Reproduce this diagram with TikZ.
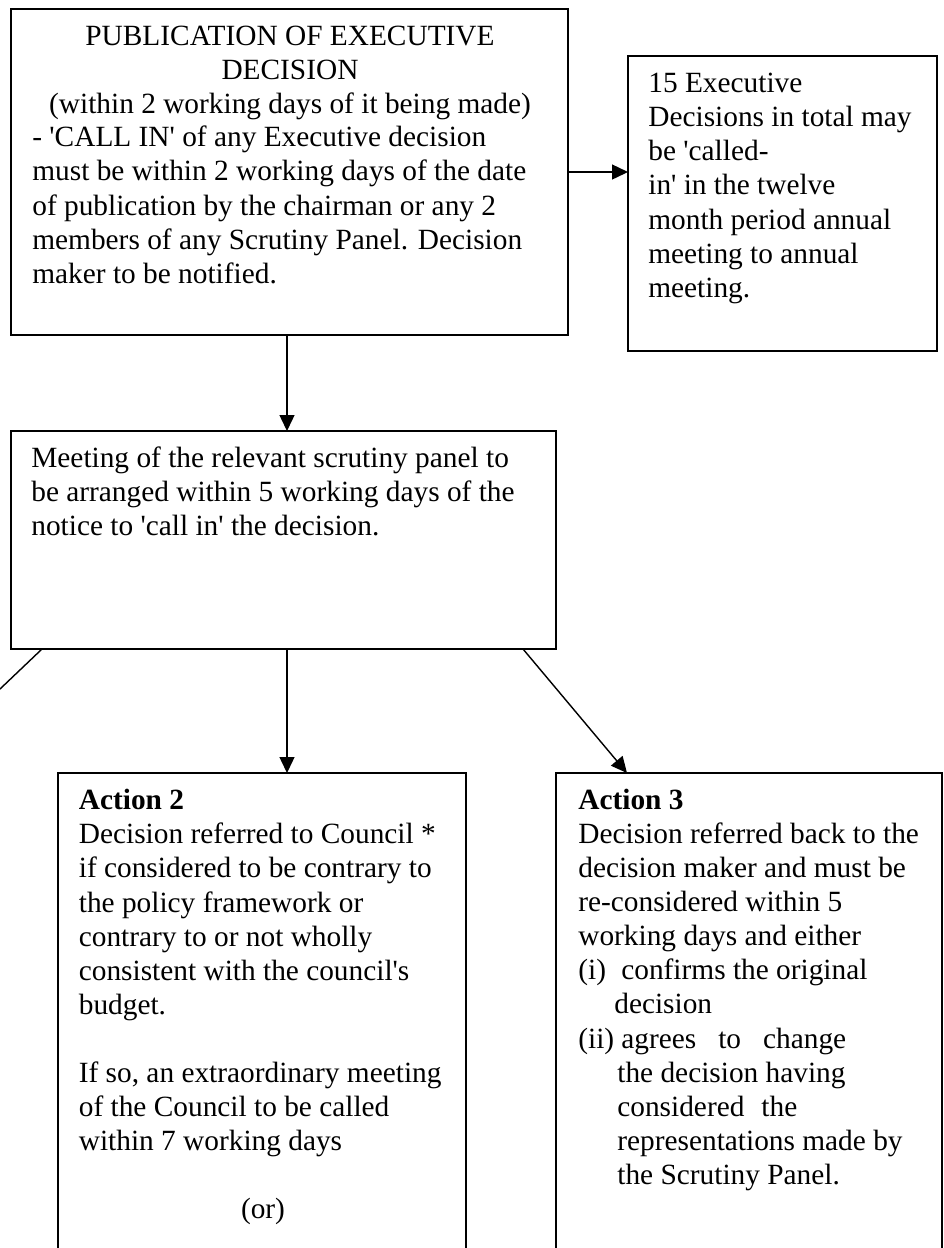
\documentclass[tikz,border=0pt]{standalone}
\usepackage{fontspec}
\setmainfont{Liberation Serif}[Ligatures=TeXOff]
\usetikzlibrary{arrows.meta}

\tikzset{
    box/.style={draw, line width=1.1pt, inner sep=0pt, outer sep=0pt},
    txt/.style={inner sep=0pt, font=\fontsize{16.7}{19.35}\selectfont},
    link/.style={line width=0.8pt, -{Triangle[length=0.32cm,width=0.3cm]}}
}

\begin{document}
\begin{tikzpicture}

        % page
            \useasboundingbox (0,0) rectangle (18.88,-24.96);
            \clip (0,0) rectangle (18.88,-24.96);
            \coordinate (mid) at (5.74,0);
            \coordinate (lost) at (0,-13.78);

        % publication of the decision (text nodes sit on their last baseline)
            \node[box, minimum width=11.14cm, minimum height=6.52cm] (pub) at (5.79,-3.44) {};
            \node[txt, anchor=base, align=center] (pubhead) at (5.80,-2.26) {PUBLICATION OF EXECUTIVE\\DECISION\\ (within 2 working days of it being made)};
            \node[txt, anchor=base west, align=left] (pubtext) at (0.64,-5.66) {- 'CALL IN' of any Executive decision\\must be within 2 working days of the date\\of publication by the chairman or any 2\\members of any Scrutiny Panel. Decision\\maker to be notified.};

        % limit on call-ins
            \node[box, minimum width=6.18cm, minimum height=5.90cm] (limit) at (15.65,-4.07) {};
            \node[txt, anchor=base west, align=left] (limittext) at (12.96,-5.94) {15 Executive\\Decisions in total may\\be 'called-\\in' in the twelve\\month period annual\\meeting to annual\\meeting.};

        % scrutiny panel meeting
            \node[box, minimum width=10.90cm, minimum height=4.36cm] (meet) at (5.67,-10.80) {};
            \node[txt, anchor=base west, align=left] (meettext) at (0.62,-10.70) {Meeting of the relevant scrutiny panel to\\be arranged within 5 working days of the\\notice to 'call in' the decision.};

        % action 2
            \node[box, minimum width=8.16cm, minimum height=10.54cm] (act2) at (5.24,-20.73) {};
            \node[txt, anchor=base west, align=left] (act2text) at (1.57,-20.28) {\textbf{Action 2}\\Decision referred to Council *\\if considered to be contrary to\\the policy framework or\\contrary to or not wholly\\consistent with the council's\\budget.};
            \node[txt, anchor=base west, align=left] (act2more) at (1.57,-23.00) {If so, an extraordinary meeting\\of the Council to be called\\within 7 working days};
            \node[txt, anchor=base] (act2or) at (5.26,-24.36) {(or)};

        % action 3
            \node[box, minimum width=7.72cm, minimum height=10.54cm] (act3) at (14.98,-20.73) {};
            \node[txt, anchor=base west, align=left] (act3text) at (11.56,-23.68) {\textbf{Action 3}\\Decision referred back to the\\decision maker and must be\\re-considered within 5\\working days and either\\\makebox[0.86cm][l]{(i)}confirms the original\\\hspace*{0.72cm}decision\\\makebox[0.86cm][l]{(ii)}agrees\hspace{0.44cm}to\hspace{0.44cm}change\\\hspace*{0.78cm}the decision having\\\hspace*{0.78cm}considered\hspace{0.34cm}the\\\hspace*{0.78cm}representations made by\\\hspace*{0.78cm}the Scrutiny Panel.};

        % connectors
            \draw[link] (pub.east) -- (pub.east -| limit.west);
            \draw[link] (pub.south -| mid) -- (meet.north -| mid);
            \draw[link] (meet.south -| mid) -- (act2.north -| mid);
            \draw[link] ([xshift=-0.66cm]meet.south east) -- ([xshift=1.42cm]act3.north west);
            \draw[line width=0.8pt] ([xshift=0.62cm]meet.south west) -- (lost);

\end{tikzpicture}
\end{document}
